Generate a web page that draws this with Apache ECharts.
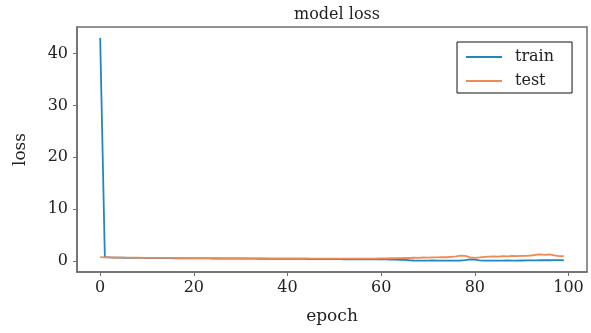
<!DOCTYPE html>
<html>
<head>
<meta charset="utf-8">
<script src="https://cdn.jsdelivr.net/npm/echarts@6/dist/echarts.min.js"></script>
<style>
  html, body { margin: 0; padding: 0; background: #fff; }
  #chart { width: 591px; height: 333px; }
</style>
</head>
<body>
<div id="chart"></div>
<script>
const epochs = Array.from({ length: 100 }, (_, i) => i);

const trainLoss = [
  43.0, 0.75, 0.70, 0.68, 0.66, 0.65, 0.64, 0.63, 0.62, 0.61,
  0.60, 0.59, 0.58, 0.58, 0.57, 0.56, 0.55, 0.55, 0.54, 0.53,
  0.52, 0.52, 0.51, 0.51, 0.50, 0.50, 0.49, 0.49, 0.48, 0.48,
  0.47, 0.47, 0.46, 0.46, 0.45, 0.45, 0.44, 0.44, 0.43, 0.43,
  0.42, 0.42, 0.41, 0.41, 0.40, 0.40, 0.39, 0.39, 0.38, 0.38,
  0.37, 0.37, 0.36, 0.36, 0.35, 0.35, 0.34, 0.34, 0.33, 0.33,
  0.32, 0.32, 0.30, 0.28, 0.25, 0.22, 0.16, 0.12, 0.10, 0.10,
  0.11, 0.12, 0.10, 0.09, 0.10, 0.11, 0.10, 0.12, 0.20, 0.35,
  0.28, 0.15, 0.10, 0.09, 0.10, 0.11, 0.10, 0.12, 0.11, 0.10,
  0.12, 0.13, 0.14, 0.15, 0.16, 0.17, 0.16, 0.18, 0.17, 0.16
];

const testLoss = [
  0.75, 0.72, 0.70, 0.69, 0.68, 0.67, 0.66, 0.66, 0.65, 0.64,
  0.64, 0.63, 0.63, 0.62, 0.62, 0.61, 0.61, 0.60, 0.60, 0.60,
  0.59, 0.59, 0.58, 0.58, 0.58, 0.57, 0.57, 0.56, 0.56, 0.56,
  0.55, 0.55, 0.54, 0.54, 0.54, 0.53, 0.53, 0.52, 0.52, 0.52,
  0.51, 0.51, 0.50, 0.50, 0.50, 0.49, 0.49, 0.48, 0.48, 0.48,
  0.47, 0.47, 0.47, 0.46, 0.46, 0.46, 0.47, 0.48, 0.49, 0.50,
  0.52, 0.53, 0.55, 0.56, 0.58, 0.62, 0.60, 0.68, 0.64, 0.70,
  0.66, 0.72, 0.70, 0.76, 0.74, 0.82, 0.90, 1.05, 1.00, 0.72,
  0.62, 0.70, 0.80, 0.86, 0.92, 0.88, 0.96, 0.92, 0.98, 0.95,
  1.00, 1.02, 1.08, 1.22, 1.30, 1.18, 1.28, 1.10, 0.96, 0.95
];

const xTicks = [0, 20, 40, 60, 80, 100];
const yTicks = [0, 10, 20, 30, 40];

const serif = '"DejaVu Serif", serif';
const axisColor = '#6e6e6e';
const textColor = '#222';

const chart = echarts.init(document.getElementById('chart'));

chart.setOption({
  animation: false,
  backgroundColor: '#fff',
  title: {
    text: 'model loss',
    left: 332,
    textAlign: 'center',
    top: 2,
    textStyle: { fontFamily: serif, fontWeight: 'normal', fontSize: 16, color: textColor }
  },
  legend: {
    left: 457,
    top: 42,
    orient: 'vertical',
    itemWidth: 36,
    itemHeight: 2,
    itemGap: 8,
    padding: [7, 18, 4, 9],
    borderColor: '#111',
    borderWidth: 1,
    borderRadius: 0,
    icon: 'rect',
    textStyle: { fontFamily: serif, fontSize: 16, color: textColor, padding: [0, 0, 0, 8] },
    data: ['train', 'test']
  },
  grid: {
    left: 77, right: 4, top: 27, bottom: 61,
    show: true,
    borderColor: axisColor,
    borderWidth: 1.5,
    containLabel: false
  },
  xAxis: {
    type: 'value',
    min: -4.95,
    max: 103.95,
    name: 'epoch',
    nameLocation: 'middle',
    nameGap: 36,
    nameTextStyle: { fontFamily: serif, fontSize: 17, color: textColor },
    axisLine: { show: true, onZero: false, lineStyle: { color: axisColor, width: 1.5 } },
    axisTick: { show: true, length: 4, customValues: xTicks, lineStyle: { color: axisColor } },
    axisLabel: { customValues: xTicks, margin: 8, fontFamily: serif, fontSize: 16, color: textColor },
    splitLine: { show: false }
  },
  yAxis: {
    type: 'value',
    min: -2.1,
    max: 45.1,
    name: 'loss',
    nameLocation: 'middle',
    nameGap: 48,
    nameRotate: 90,
    nameTextStyle: { fontFamily: serif, fontSize: 17, color: textColor },
    axisLine: { show: true, onZero: false, lineStyle: { color: axisColor, width: 1.5 } },
    axisTick: { show: true, length: 4, customValues: yTicks, lineStyle: { color: axisColor } },
    axisLabel: { customValues: yTicks, margin: 9, fontFamily: serif, fontSize: 16, color: textColor },
    splitLine: { show: false }
  },
  series: [
    {
      name: 'train',
      type: 'line',
      data: epochs.map((e, i) => [e, trainLoss[i]]),
      showSymbol: false,
      color: '#1f88c2',
      lineStyle: { width: 1.8, color: '#1f88c2' }
    },
    {
      name: 'test',
      type: 'line',
      data: epochs.map((e, i) => [e, testLoss[i]]),
      showSymbol: false,
      color: '#ee8a55',
      lineStyle: { width: 1.8, color: '#ee8a55' }
    }
  ]
});
</script>
</body>
</html>
